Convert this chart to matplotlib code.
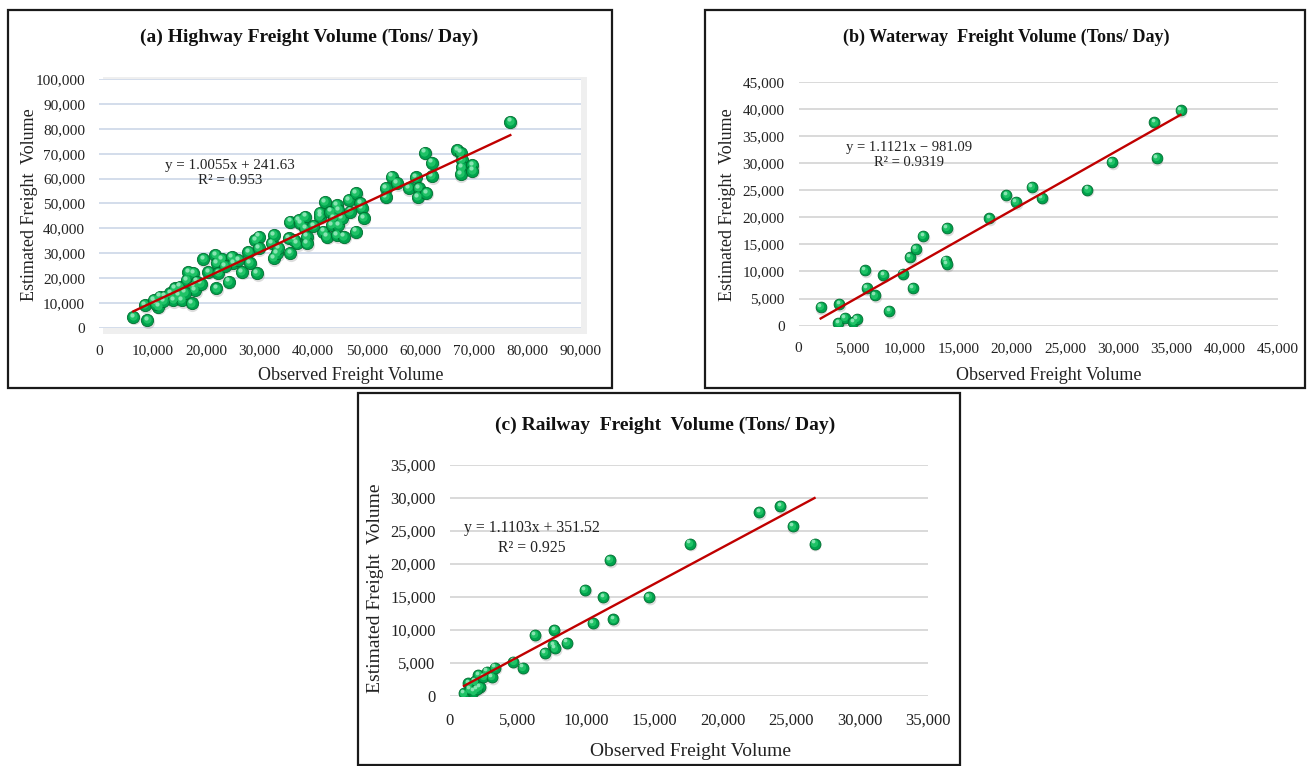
import matplotlib
matplotlib.use("Agg")
import matplotlib.pyplot as plt
from matplotlib.patches import Rectangle
from matplotlib.transforms import ScaledTranslation
from matplotlib.ticker import FuncFormatter, MultipleLocator
import numpy as np

plt.rcParams['font.family'] = ['Liberation Serif', 'DejaVu Serif']

# ---------------- data (thousands of tons/day) ----------------
hw_obs = [6.4, 9.0, 8.6, 10.2, 11.1, 11.4, 12.3, 13.3, 13.9, 14.2, 15.1, 15.5, 16.4, 16.7,
          17.3, 17.6, 17.6, 18.3, 17.9, 19.5, 20.4, 21.9, 21.7, 22.0, 22.3, 22.9, 24.2, 24.8,
          25.1, 26.0, 26.7, 27.9, 28.2, 29.5, 29.2, 29.8, 29.8, 32.3, 32.6, 32.6, 33.2, 33.5,
          35.4, 35.7, 35.7, 37.0, 37.3, 37.6, 38.5, 38.5, 38.8, 38.8, 41.3, 41.3, 42.2, 41.9,
          42.6, 43.2, 43.5, 43.8, 44.4, 44.4, 44.7, 44.7, 45.4, 45.7, 46.6, 46.9, 47.9, 48.0,
          48.8, 49.1, 49.4, 53.5, 53.5, 54.7, 55.6, 57.8, 59.1, 59.7, 59.5, 61.1, 60.9, 62.2,
          62.2, 66.9, 67.5, 67.8, 67.8, 67.5, 69.7, 69.7, 76.8,
          10.6, 12.0, 14.8, 16.0, 19.0, 23.5, 36.5, 40.0]
hw_est = [4.5, 3.2, 9.2, 11.2, 8.6, 12.6, 12.6, 13.9, 11.2, 15.9, 16.6, 11.2, 19.3, 22.6,
          9.9, 22.0, 16.6, 18.6, 15.3, 27.6, 22.6, 15.9, 29.3, 26.0, 22.0, 27.6, 18.6, 28.6,
          26.0, 27.3, 22.6, 30.6, 26.0, 22.0, 35.3, 36.7, 32.0, 34.0, 37.3, 28.0, 30.0, 32.0,
          36.0, 30.0, 42.7, 34.0, 43.4, 42.0, 44.7, 40.0, 36.7, 34.0, 44.7, 46.1, 50.7, 38.7,
          36.7, 46.7, 41.4, 44.1, 49.4, 37.3, 47.4, 41.4, 44.1, 36.7, 51.4, 46.7, 38.7, 54.1,
          50.1, 48.1, 44.1, 56.1, 52.7, 60.8, 58.1, 56.1, 60.5, 56.1, 52.5, 54.3, 70.4, 66.4,
          61.0, 71.5, 70.4, 67.5, 64.5, 61.8, 65.5, 63.2, 82.9,
          9.8, 10.8, 13.2, 14.2, 17.8, 25.0, 35.5, 41.0]

ww_obs = [2.08, 3.82, 3.73, 4.36, 5.14, 5.45, 6.23, 6.39, 7.17, 7.95, 8.51, 9.77, 10.7, 10.45,
          11.0, 11.7, 13.8, 13.95, 13.95, 17.9, 19.5, 20.4, 21.9, 22.85, 27.1, 29.4, 33.4, 33.6, 35.85]
ww_est = [3.4, 4.0, 0.5, 1.4, 0.7, 1.2, 10.2, 6.9, 5.6, 9.3, 2.7, 9.6, 6.9, 12.6,
          14.1, 16.5, 12.0, 11.4, 18.0, 19.8, 24.1, 22.8, 25.6, 23.6, 25.1, 30.2, 37.5, 30.9, 39.7]

rw_obs = [1.06, 1.38, 1.74, 1.87, 2.1, 2.23, 2.47, 2.72, 3.09, 3.33, 4.67, 5.35, 6.25, 6.99,
          7.6, 7.72, 7.67, 8.57, 9.91, 10.5, 11.25, 11.74, 11.98, 14.6, 17.6, 22.66, 24.2, 25.1, 26.7,
          1.5, 2.0]
rw_est = [0.4, 1.9, 0.65, 2.2, 3.2, 1.4, 2.9, 3.7, 2.9, 4.3, 5.2, 4.3, 9.2, 6.5,
          7.7, 7.2, 10.0, 8.1, 16.1, 11.1, 15.0, 20.6, 11.6, 15.0, 23.1, 27.9, 28.8, 25.7, 23.1,
          1.0, 1.1]

titles = ["(a) Highway Freight Volume (Tons/ Day)",
          "(b) Waterway  Freight Volume (Tons/ Day)",
          "(c) Railway  Freight  Volume (Tons/ Day)"]
slopes = [1.0055, 1.1121, 1.1103]
intercepts = [241.63, -981.09, 351.52]
eq_texts = ["y = 1.0055x + 241.63\nR\u00b2 = 0.953",
            "y = 1.1121x \u2212 981.09\nR\u00b2 = 0.9319",
            "y = 1.1103x + 351.52\nR\u00b2 = 0.925"]
xlims = [90000, 45000, 35000]
ylims = [100000, 45000, 35000]
xsteps = [10000, 5000, 5000]
ysteps = [10000, 5000, 5000]

W, H = 1310, 766
fig = plt.figure(figsize=(W / 100, H / 100), dpi=100)
fig.patch.set_facecolor('white')

def fx(px):
    return px / W

def fy(py):
    return 1 - py / H

# axes pixel boxes: (left, right, top, bottom)
boxes = [(99, 581, 79, 328), (798.5, 1278, 81.7, 325.7), (449.5, 928, 465, 696)]
frames = [(8, 612, 10, 388), (705, 1305, 10, 388), (358, 960, 393, 765)]
title_pos = [(309, 37), (1006, 37), (665, 425)]
xlabel_pos = [(351, 376), (1049, 376), (690, 752)]
ylabel_pos = [(30, 205), (727, 205), (376, 588)]
eq_pos = [(230, 173), (909, 155), (532, 538)]
grid_colors = ['#D3DDEB', '#D9D9D9', '#D9D9D9']
marker_s = [78, 60, 62]
fs_tick = [11, 11, 12]
fs_eq = [10.8, 10.5, 11.3]
fs_title = [14, 13, 14]
fs_lab = [13, 13, 14]

datasets = [(hw_obs, hw_est), (ww_obs, ww_est), (rw_obs, rw_est)]

for i in range(3):
    l, r, t, b = frames[i]
    fig.add_artist(Rectangle((fx(l), fy(b)), fx(r) - fx(l), fy(t) - fy(b),
                             transform=fig.transFigure, fill=False,
                             edgecolor='#1a1a1a', linewidth=1.6, zorder=0))
    al, ar, at, ab = boxes[i]
    if i == 0:
        # soft shadow of the plot area
        fig.add_artist(Rectangle((fx(al + 4), fy(ab + 6)), fx(ar + 6) - fx(al + 4),
                                 fy(at - 2) - fy(ab + 6), transform=fig.transFigure,
                                 facecolor='#EFEFEF', edgecolor='none', zorder=0))
    ax = fig.add_axes([fx(al), fy(ab), fx(ar) - fx(al), fy(at) - fy(ab)])
    ax.set_facecolor('white')
    x = np.array(datasets[i][0]) * 1000
    y = np.array(datasets[i][1]) * 1000
    ax.set_xlim(0, xlims[i])
    ax.set_ylim(0, ylims[i])
    ax.xaxis.set_major_locator(MultipleLocator(xsteps[i]))
    ax.yaxis.set_major_locator(MultipleLocator(ysteps[i]))
    fmt = FuncFormatter(lambda v, p: f"{int(round(v)):,}")
    ax.xaxis.set_major_formatter(fmt)
    ax.yaxis.set_major_formatter(fmt)
    for s in ax.spines.values():
        s.set_visible(False)
    ax.tick_params(axis='both', length=0, labelsize=fs_tick[i], colors='#222222')
    ax.tick_params(axis='x', pad=12)
    ax.tick_params(axis='y', pad=10)
    ax.yaxis.grid(True, color=grid_colors[i], linewidth=1.4, zorder=0)
    ax.set_axisbelow(True)

    # sphere-like markers
    ax.scatter(x, y, s=marker_s[i] * 1.15, c='#7a7a7a', alpha=0.25, linewidths=0, zorder=2,
               transform=ax.transData + ScaledTranslation(0.6 / 72, -1.2 / 72, fig.dpi_scale_trans))
    ax.scatter(x, y, s=marker_s[i], c='#00A34D', edgecolors='#006E30', linewidths=0.6, zorder=3)
    ax.scatter(x, y, s=marker_s[i] * 0.45, c='#1FC266', linewidths=0, zorder=4,
               transform=ax.transData + ScaledTranslation(-0.5 / 72, 0.6 / 72, fig.dpi_scale_trans))
    ax.scatter(x, y, s=marker_s[i] * 0.12, c='#9BEBC0', alpha=0.85, linewidths=0, zorder=4,
               transform=ax.transData + ScaledTranslation(-1.2 / 72, 1.6 / 72, fig.dpi_scale_trans))

    # trendline
    xx = np.array([x.min(), x.max()])
    ax.plot(xx, slopes[i] * xx + intercepts[i], color='#C00000', linewidth=1.7, zorder=5)

    fig.text(fx(title_pos[i][0]), fy(title_pos[i][1]), titles[i], ha='center', va='center',
             fontsize=fs_title[i], fontweight='bold', color='#111111')
    fig.text(fx(xlabel_pos[i][0]), fy(xlabel_pos[i][1]), "Observed Freight Volume",
             ha='center', va='center', fontsize=fs_lab[i], color='#222222')
    fig.text(fx(ylabel_pos[i][0]), fy(ylabel_pos[i][1]), "Estimated Freight  Volume",
             ha='center', va='center', rotation=90, fontsize=fs_lab[i], color='#222222')
    fig.text(fx(eq_pos[i][0]), fy(eq_pos[i][1]), eq_texts[i], ha='center', va='center',
             fontsize=fs_eq[i], color='#222222', linespacing=1.25)

fig.savefig("out.png", dpi=100, facecolor='white')
